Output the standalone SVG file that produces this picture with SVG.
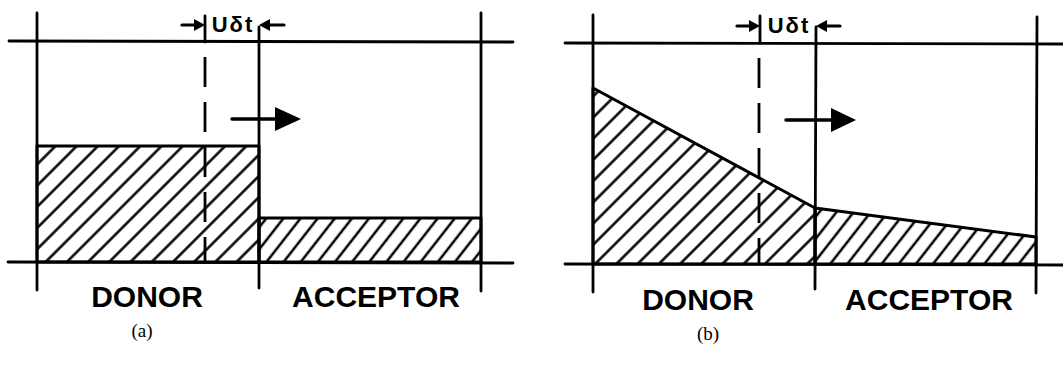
<svg xmlns="http://www.w3.org/2000/svg" width="1063" height="367" viewBox="0 0 1063 367">
<style>
.ln{stroke:#000;stroke-width:2.8;fill:none;stroke-linecap:round}
.dash{stroke:#000;stroke-width:2.8;fill:none;stroke-dasharray:30 15}
.outline{stroke:#000;stroke-width:3;stroke-linejoin:round}
.lbl{font-family:"Liberation Sans",Arial,sans-serif;font-weight:bold;font-size:30px;fill:#000}
.dim{font-family:"Liberation Sans",Arial,sans-serif;font-weight:bold;font-size:22px;fill:#000;letter-spacing:2px}
.cap{font-family:"Liberation Serif","Times New Roman",serif;font-size:19px;fill:#000}
.head{fill:#000}
</style>
<defs>
<pattern id="h45" patternUnits="userSpaceOnUse" width="15" height="20" patternTransform="rotate(45)">
<line x1="7.5" y1="-2" x2="7.5" y2="22" stroke="#000" stroke-width="2.5"/>
</pattern>
<pattern id="h38" patternUnits="userSpaceOnUse" width="13.5" height="20" patternTransform="rotate(38)">
<line x1="6.75" y1="-2" x2="6.75" y2="22" stroke="#000" stroke-width="2.5"/>
</pattern>
</defs>

<g id="panel-a">
  <g id="a-fill">
    <rect id="a-donor" x="37" y="146" width="222" height="116" fill="url(#h45)" class="outline"/>
    <rect id="a-acceptor" x="259" y="218" width="222" height="44" fill="url(#h38)" class="outline"/>
  </g>
  <g id="a-frame">
    <line class="ln" x1="9" y1="41" x2="513" y2="42"/>
    <line class="ln" x1="8" y1="262" x2="513" y2="263"/>
    <line class="ln" x1="37" y1="13" x2="37" y2="290"/>
    <line class="ln" x1="259" y1="27" x2="259" y2="288"/>
    <line class="ln" x1="481" y1="13" x2="481" y2="291"/>
    <line class="ln" x1="205" y1="16" x2="205" y2="42"/>
    <line class="dash" x1="205" y1="57" x2="205" y2="262"/>
  </g>
  <g id="a-dim">
    <text class="dim" x="233" y="32" text-anchor="middle">Uδt</text>
    <line class="ln" x1="182" y1="25" x2="197" y2="25" style="stroke-width:3.2"/>
    <path class="head" d="M194,19 L205,25 L194,31 z"/>
    <line class="ln" x1="269" y1="25" x2="284" y2="25" style="stroke-width:3.2"/>
    <path class="head" d="M270,19 L259,25 L270,31 z"/>
  </g>
  <g id="a-arrow">
    <line class="ln" x1="232" y1="119" x2="278" y2="119" style="stroke-width:3.4"/>
    <path class="head" d="M275,107 L301,119 L275,131 z"/>
  </g>
  <text class="lbl" x="147" y="307" text-anchor="middle">DONOR</text>
  <text class="lbl" x="376" y="307" text-anchor="middle">ACCEPTOR</text>
  <text class="cap" x="142" y="337" text-anchor="middle">(a)</text>
</g>

<g id="panel-b">
  <g id="b-fill">
    <path id="b-donor" d="M593,88 L815,208 L815,264 L593,264 z" fill="url(#h45)" class="outline"/>
    <path id="b-acceptor" d="M815,208 L1036,237 L1036,264 L815,264 z" fill="url(#h38)" class="outline"/>
  </g>
  <g id="b-frame">
    <line class="ln" x1="565" y1="43" x2="1063" y2="44"/>
    <line class="ln" x1="565" y1="264" x2="1063" y2="265"/>
    <line class="ln" x1="593" y1="15" x2="593" y2="292"/>
    <line class="ln" x1="816" y1="27" x2="815" y2="289"/>
    <line class="ln" x1="1037" y1="17" x2="1036" y2="293"/>
    <line class="ln" x1="760" y1="16" x2="760" y2="43"/>
    <line class="dash" x1="759" y1="58" x2="759" y2="264"/>
  </g>
  <g id="b-dim">
    <text class="dim" x="789" y="33" text-anchor="middle">Uδt</text>
    <line class="ln" x1="737" y1="26" x2="752" y2="26" style="stroke-width:3.2"/>
    <path class="head" d="M749,20 L760,26 L749,32 z"/>
    <line class="ln" x1="826" y1="26" x2="840" y2="26" style="stroke-width:3.2"/>
    <path class="head" d="M827,20 L816,26 L827,32 z"/>
  </g>
  <g id="b-arrow">
    <line class="ln" x1="786" y1="120" x2="834" y2="120" style="stroke-width:3.4"/>
    <path class="head" d="M831,108 L856,120 L831,132 z"/>
  </g>
  <text class="lbl" x="698" y="310" text-anchor="middle">DONOR</text>
  <text class="lbl" x="929" y="310" text-anchor="middle">ACCEPTOR</text>
  <text class="cap" x="708" y="340" text-anchor="middle">(b)</text>
</g>
</svg>
